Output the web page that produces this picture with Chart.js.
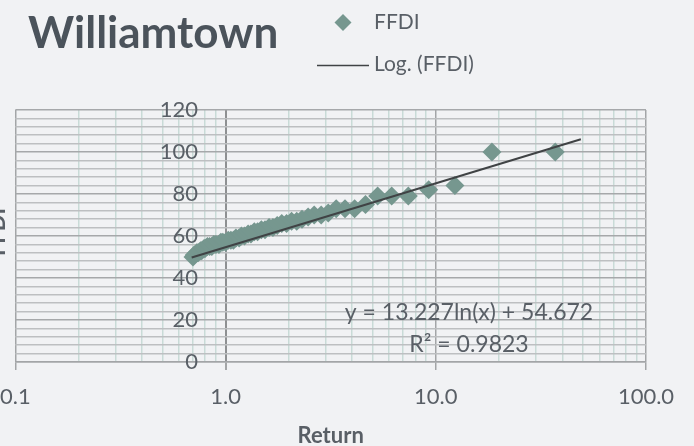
<!DOCTYPE html>
<html>
<head>
<meta charset="utf-8">
<script src="https://cdn.jsdelivr.net/npm/chart.js@4.4.0/dist/chart.umd.min.js"></script>
<style>
    html, body { margin: 0; padding: 0; background: #f1f2f4; }
    #wrap { width: 694px; height: 446px; }
</style>
</head>
<body>
<div id="wrap"><canvas id="ffdiChart" width="694" height="446"></canvas></div>
<script>
// Данные
var returnPeriods = [37.0, 18.5, 12.33, 9.25, 7.4, 6.17, 5.29, 4.63, 4.11, 3.7, 3.36, 3.08, 2.85, 2.64, 2.47,
    2.31, 2.18, 2.06, 1.95, 1.85, 1.76, 1.68, 1.61, 1.54, 1.48, 1.42, 1.37, 1.32, 1.28, 1.23, 1.19, 1.16,
    1.12, 1.09, 1.06, 1.03, 1.0, 0.97, 0.95, 0.93, 0.9, 0.88, 0.86, 0.84, 0.82, 0.8, 0.79, 0.77, 0.76,
    0.74, 0.73, 0.71, 0.7];
var ffdiValues = [100, 100, 84, 82, 79, 79, 79, 75, 73, 73, 73, 71, 70, 70, 69, 68, 67, 67, 66, 66, 65,
    64, 64, 63, 63, 62, 62, 61, 61, 60, 60, 59, 59, 58, 58, 58, 57, 57, 57, 56, 56, 56, 55, 55, 55, 54,
    54, 53, 53, 52, 52, 51, 50];

// Логарифмический тренд (концы линии)
var trendX = [0.69, 49];
var trendY = [49.8, 106.1];

var xGridValues = [0.1, 0.2, 0.3, 0.4, 0.5, 0.6, 0.7, 0.8, 0.9, 1, 2, 3, 4, 5, 6, 7, 8, 9,
    10, 20, 30, 40, 50, 60, 70, 80, 90, 100];
var xDecades = [0.1, 1, 10, 100];
var xTickLabels = ['0.1', '1.0', '10.0', '100.0'];
var yTickLabels = ['0', '20', '40', '60', '80', '100', '120'];

var chartTitle = 'Williamtown';
var seriesLabel = 'FFDI';
var trendLabel = 'Log. (FFDI)';
var equationText = 'y = 13.227ln(x) + 54.672';
var r2Text = 'R² = 0.9823';

var textColor = '#595f66';
var markerColor = '#76978f';
var trendColor = '#404345';

function isDecade(v) {
    return xDecades.some(function (d) { return Math.abs(d - v) < 1e-9; });
}

var excelText = {
    id: 'excelText',
    beforeDraw: function (chart) {
        var ctx = chart.ctx;
        ctx.save();
        ctx.fillStyle = '#f1f2f4';
        ctx.fillRect(0, 0, chart.width, chart.height);
        ctx.restore();
    },
    afterDraw: function (chart) {
        var ctx = chart.ctx;
        ctx.save();
        // заголовок
        ctx.fillStyle = '#4b535b';
        ctx.font = 'bold 44px Lato';
        ctx.textAlign = 'left';
        ctx.textBaseline = 'alphabetic';
        ctx.fillText(chartTitle, 28, 48);

        // легенда
        ctx.fillStyle = markerColor;
        ctx.beginPath();
        ctx.moveTo(343, 14);
        ctx.lineTo(351.5, 22.5);
        ctx.lineTo(343, 31);
        ctx.lineTo(334.5, 22.5);
        ctx.closePath();
        ctx.fill();
        ctx.strokeStyle = trendColor;
        ctx.lineWidth = 1.5;
        ctx.beginPath();
        ctx.moveTo(317, 65.5);
        ctx.lineTo(369, 65.5);
        ctx.stroke();
        ctx.fillStyle = textColor;
        ctx.font = '21px Lato';
        ctx.fillText(seriesLabel, 374, 29);
        ctx.fillText(trendLabel, 374, 71);

        // уравнение тренда
        ctx.font = '23px Lato';
        ctx.textAlign = 'center';
        ctx.textBaseline = 'middle';
        ctx.fillText(equationText, 469, 313);
        ctx.fillText(r2Text, 469, 345);

        // подпись оси Y (обрезана слева)
        ctx.translate(5, 232);
        ctx.rotate(-Math.PI / 2);
        ctx.font = 'bold 22px Lato';
        ctx.textBaseline = 'alphabetic';
        ctx.fillText('FFDI', 0, 0);
        ctx.restore();
    }
};

var canvas = document.getElementById('ffdiChart');
Chart.defaults.font.family = 'Lato';
Chart.defaults.color = textColor;

var points = returnPeriods.map(function (x, i) { return { x: x, y: ffdiValues[i] }; });
var trendPoints = trendX.map(function (x, i) { return { x: x, y: trendY[i] }; });

new Chart(canvas, {
    type: 'scatter',
    data: {
        datasets: [{
            label: trendLabel,
            data: trendPoints,
            showLine: true,
            borderColor: trendColor,
            borderWidth: 2,
            pointRadius: 0,
            order: 0
        }, {
            label: seriesLabel,
            data: points,
            pointStyle: 'rectRot',
            pointRadius: 9.5,
            borderWidth: 0,
            backgroundColor: markerColor,
            order: 1
        }]
    },
    options: {
        responsive: false,
        animation: false,
        layout: {
            padding: { left: 15, right: 48, top: 110, bottom: 0 }
        },
        plugins: {
            legend: { display: false },
            tooltip: { enabled: false }
        },
        scales: {
            x: {
                type: 'logarithmic',
                min: 0.1,
                max: 100,
                afterBuildTicks: function (scale) {
                    scale.ticks = xGridValues.map(function (v) { return { value: v, major: isDecade(v) }; });
                },
                grid: {
                    color: function (c) {
                        var v = c.tick ? c.tick.value : 0;
                        if (Math.abs(v - 1) < 1e-9) return '#8e9092';
                        return isDecade(v) ? '#a3a5a7' : '#c9dbd7';
                    },
                    lineWidth: function (c) {
                        var v = c.tick ? c.tick.value : 0;
                        return Math.abs(v - 1) < 1e-9 ? 2 : 1.5;
                    },
                    tickColor: function (c) {
                        var v = c.tick ? c.tick.value : 0;
                        return isDecade(v) ? '#a3a5a7' : 'rgba(0,0,0,0)';
                    },
                    tickLength: 8
                },
                border: { color: '#a3a5a7', width: 1.5 },
                ticks: {
                    autoSkip: false,
                    maxRotation: 0,
                    padding: 0,
                    font: { size: 22, lineHeight: 53 / 22 },
                    color: textColor,
                    callback: function (value) {
                        var idx = xDecades.findIndex(function (d) { return Math.abs(d - value) < 1e-9; });
                        return idx >= 0 ? xTickLabels[idx] : '';
                    }
                },
                title: {
                    display: true,
                    text: 'Return',
                    color: textColor,
                    font: { size: 22, weight: 'bold', lineHeight: 20 / 22 },
                    padding: { top: 3, bottom: 0 }
                }
            },
            y: {
                position: { x: 0.74 },
                min: 0,
                max: 120,
                afterBuildTicks: function (scale) {
                    var t = [];
                    for (var v = 0; v <= 120; v += 4) t.push({ value: v });
                    scale.ticks = t;
                },
                grid: {
                    color: function (c) {
                        var v = c.tick ? c.tick.value : 0;
                        return v % 20 === 0 ? '#a6a8aa' : '#bdbfc1';
                    },
                    lineWidth: 1.5,
                    drawTicks: false
                },
                border: { display: false },
                ticks: {
                    autoSkip: false,
                    font: { size: 22 },
                    color: textColor,
                    callback: function (value) {
                        return value % 20 === 0 ? yTickLabels[value / 20] : '';
                    }
                }
            }
        }
    },
    plugins: [excelText]
});
</script>
</body>
</html>
